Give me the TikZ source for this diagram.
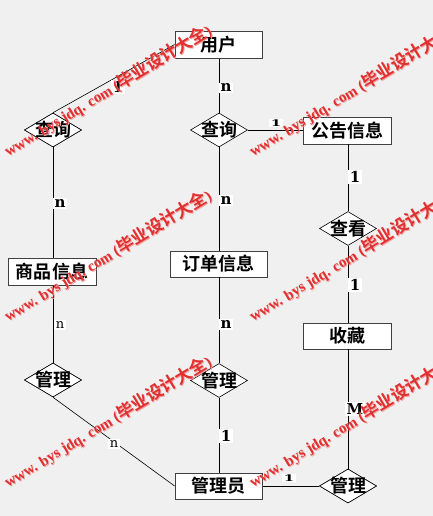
\documentclass[tikz,border=0pt]{standalone}
\usepackage{fontspec}
\usetikzlibrary{shapes.geometric}
\setmainfont{Liberation Serif}
\newfontfamily\cjk{Noto Sans CJK SC}[BoldFont={Noto Sans CJK SC Bold}]
\newfontfamily\cardfont{DejaVu Serif}
\definecolor{bg}{HTML}{F0F0F0}
\definecolor{bord}{HTML}{404040}
\definecolor{wm}{HTML}{E03030}
\definecolor{wmshadow}{HTML}{F4A0A0}
\tikzset{
  ent/.style={draw=bord, fill=white, line width=0.8pt, inner sep=0pt, font=\cjk\bfseries\fontsize{18}{18}\selectfont},
  rel/.style={diamond, draw=black, fill=white, line width=0.6pt, minimum width=57pt, minimum height=34pt, inner sep=0pt},
  reltext/.style={font=\cjk\bfseries\fontsize{18}{18}\selectfont},
  conn/.style={draw=black, line width=0.6pt},
  card/.style={fill=white, inner sep=1.5pt, font=\cardfont\bfseries\fontsize{15}{15}\selectfont},
  cardr/.style={fill=white, inner sep=1.5pt, font=\cardfont\fontsize{13}{13}\selectfont},
  wmark/.style={anchor=base west, rotate=31, inner sep=0pt, text=wm, font=\bfseries\fontsize{15}{15}\selectfont},
  wmarks/.style={anchor=base west, rotate=31, inner sep=0pt, text=wmshadow, font=\bfseries\fontsize{15}{15}\selectfont}
}
\newcommand{\wmtext}{www. bys jdq. com ({\cjk\bfseries\fontsize{17}{17}\selectfont 毕业设计大全})}
\begin{document}
\begin{tikzpicture}[x=1pt,y=-1pt]
\fill[bg] (0,0) rectangle (433,516);
\useasboundingbox (0,0) rectangle (433,516);

% entities
\node[ent, minimum width=87pt, minimum height=27pt] (user) at (218.5,44.5) {用户};
\node[ent, minimum width=88pt, minimum height=27pt] (notice) at (347,130.5) {公告信息};
\node[ent, minimum width=88pt, minimum height=27pt] (goods) at (52,271.5) {商品信息};
\node[ent, minimum width=97pt, minimum height=26pt] (order) at (218.5,264) {订单信息};
\node[ent, minimum width=88pt, minimum height=26pt] (fav) at (347,336) {收藏};
\node[ent, minimum width=87pt, minimum height=26pt] (admin) at (218.5,486) {管理员};

% relations
\node[rel, label={[reltext]center:查询}] (q1) at (53,130) {};
\node[rel, label={[reltext]center:查询}] (q2) at (219,130) {};
\node[rel, label={[reltext]center:查看}] (see) at (348,228.5) {};
\node[rel, label={[reltext]center:管理}] (m1) at (53,380) {};
\node[rel, label={[reltext]center:管理}] (m2) at (219,380.5) {};
\node[rel, label={[reltext]center:管理}] (m3) at (348,486) {};

% connectors
\path[conn] (user.west) -- (q1.north);
\path[conn] (user.south -| q2) -- (q2.north);
\path[conn] (q2.east) -- (notice.west |- q2);
\path[conn] (q1.south) -- (goods.north -| q1);
\path[conn] (q2.south) -- (order.north -| q2);
\path[conn] (notice.south -| see) -- (see.north);
\path[conn] (see.south) -- (fav.north -| see);
\path[conn] (goods.south -| m1) -- (m1.north);
\path[conn] (order.south -| m2) -- (m2.north);
\path[conn] (m1.south) -- (admin.west);
\path[conn] (m2.south) -- (admin.north -| m2);
\path[conn] (admin.east) -- (m3.west);
\path[conn] (fav.south -| m3) -- (m3.north);

% redraw nodes above lines
\node[ent, minimum width=87pt, minimum height=27pt] (userb) at (user) {用户};
\node[ent, minimum width=88pt, minimum height=27pt] (goodsb) at (goods) {商品信息};
\node[ent, minimum width=87pt, minimum height=26pt] (adminb) at (admin) {管理员};
\node[rel, label={[reltext]center:查询}] (q1b) at (q1) {};
\node[rel, label={[reltext]center:管理}] (m1b) at (m1) {};
\node[rel, label={[reltext]center:管理}] (m3b) at (m3) {};

% cardinalities
\node[card] (c1) at (118,87) {1};
\node[card] (c2) at (226,88) {n};
\node[card, yscale=0.6] (c3) at (276,123) {1};
\node[card] (c4) at (60,203) {n};
\node[card] (c5) at (226,200) {n};
\node[card] (c6) at (355,177) {1};
\node[card] (c7) at (355,285) {1};
\node[cardr] (c8) at (60,325) {n};
\node[card] (c9) at (226,324) {n};
\node[cardr] (c10) at (114,444) {n};
\node[card] (c11) at (226,436) {1};
\node[card, yscale=0.6] (c12) at (289,478) {1};
\node[card] (c13) at (355,409) {M};

% watermarks
\foreach \i/\x/\y in {1/8/157, 2/8/322, 3/8/488, 4/253/157, 5/253/322, 6/253/488}{
  \node[wmarks] (ws\i) at (\x+1,\y+1) {\wmtext};
  \node[wmark] (w\i) at (\x,\y) {\wmtext};
}
\end{tikzpicture}
\end{document}
